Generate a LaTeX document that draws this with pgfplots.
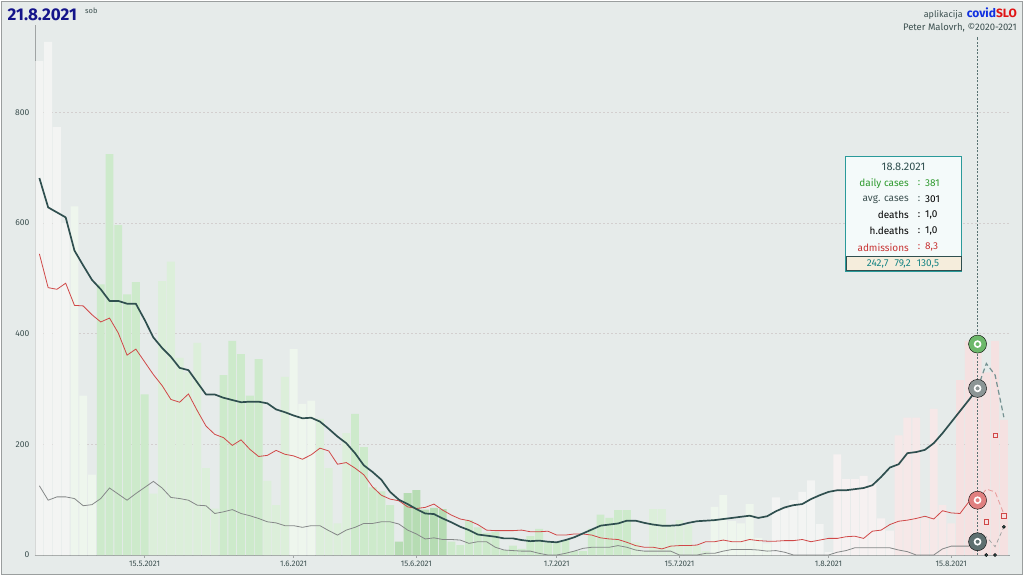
\documentclass[border=0pt]{standalone}
\usepackage{fontspec}
\setmainfont{Fira Sans}
\usepackage{pgfplots}
\pgfplotsset{compat=1.18}
\definecolor{bg}{HTML}{E6EBEA}
\definecolor{framecol}{HTML}{9A9E9E}
\definecolor{axcol}{HTML}{A0A4A4}
\definecolor{gridcol}{HTML}{D3CFCF}
\definecolor{tickcol}{HTML}{3C5050}
\definecolor{cW}{HTML}{F3F4F3}
\definecolor{cG0}{HTML}{EEF6ED}
\definecolor{cG1}{HTML}{DCEFDA}
\definecolor{cG2}{HTML}{CDEACB}
\definecolor{cG3}{HTML}{B6DCB3}
\definecolor{cP0}{HTML}{F6F1F1}
\definecolor{cP1}{HTML}{F6E8E8}
\definecolor{cP2}{HTML}{F5E1E1}
\definecolor{avgcol}{HTML}{2F4F4F}
\definecolor{redcol}{HTML}{D04848}
\definecolor{deathcol}{HTML}{858888}
\definecolor{mgreen}{HTML}{6DB86B}
\definecolor{mgray}{HTML}{8C9595}
\definecolor{mred}{HTML}{E08080}
\definecolor{mdark}{HTML}{5E7070}
\definecolor{titlecol}{HTML}{14148A}
\definecolor{tipborder}{HTML}{2A9A9A}
\definecolor{tipfill}{HTML}{F4FAFA}
\definecolor{tipbeige}{HTML}{F5EDDC}
\definecolor{tipteal}{HTML}{178585}
\definecolor{tipgreen}{HTML}{2E9A2E}
\definecolor{tipred}{HTML}{C83434}
\begin{document}
\begin{tikzpicture}[x=1pt,y=1pt]
\useasboundingbox (0,0) rectangle (1024,576);
\fill[white] (0,0) rectangle (1024,576);
\fill[bg] (1.5,1.5) rectangle (1022.5,574.5);
\draw[framecol, line width=1.2pt] (1.5,1.5) rectangle (1022.5,574.5);
\begin{axis}[
  at={(35pt,21pt)}, anchor=south west,
  scale only axis, width=975pt, height=530pt,
  xmin=-0.5, xmax=110.7, ymin=0, ymax=957.5,
  clip=false,
  axis x line*=bottom, axis y line*=left,
  axis line style={-, draw=axcol, line width=0.8pt},
  ymajorgrids, grid style={dashed, gridcol, line width=0.5pt, dash pattern=on 2pt off 2pt},
  ytick={0,200,400,600,800},
  ytick style={draw=none},
  yticklabel style={font=\fontsize{8.5}{10}\selectfont, text=tickcol, inner sep=0pt, xshift=-3pt},
  /pgf/number format/assume math mode=true,
  xtick={12,29,43,59,73,90,104},
  xticklabels={15.5.2021,1.6.2021,15.6.2021,1.7.2021,15.7.2021,1.8.2021,15.8.2021},
  xtick style={draw=axcol, line width=0.6pt},
  tick align=outside, major tick length=2.5pt,
  xticklabel style={font=\fontsize{8}{9}\selectfont, text=tickcol, inner sep=0pt, yshift=-3pt},
]
% ---- daily cases bars ----
\addplot[ybar, bar width=0.9, bar shift=0pt, fill=cW, draw=none] coordinates {
(0,892)(1,927)(2,773)(3,600)};
\addplot[ybar, bar width=0.9, bar shift=0pt, fill=cG0, draw=none] coordinates {
(4,630)(5,288)(6,145)(29,372)(30,273)(31,279)
(77,87)(78,108)(79,61)(80,57)(81,92)(82,31)(83,21)};
\addplot[ybar, bar width=0.9, bar shift=0pt, fill=cG2, draw=none] coordinates {
(7,489)(8,724)(9,596)(10,471)(11,493)(12,290)
(21,325)(22,387)(23,363)(24,288)(25,354)
(36,255)(37,195)(38,122)(39,115)(40,90)
(47,24)(48,18)(49,63)(50,50)(51,40)(52,42)
(53,9)(54,17)(55,11)(56,34)(57,47)(58,23)(59,23)(60,27)(61,7)(62,7)
(63,47)(64,73)(65,67)(66,81)(67,81)};
\addplot[ybar, bar width=0.9, bar shift=0pt, fill=cG1, draw=none] coordinates {
(13,111)(14,495)(15,530)(16,356)(17,330)(18,383)(19,157)(20,84)
(26,134)(27,90)(28,322)
(32,246)(33,157)(34,57)(35,220)
(68,23)(69,7)(70,83)(71,83)(72,55)(73,63)(74,55)(75,17)(76,7)};
\addplot[ybar, bar width=0.9, bar shift=0pt, fill=cG3, draw=none] coordinates {
(41,24)(42,112)(43,117)(44,82)(45,85)(46,83)};
\addplot[ybar, bar width=0.9, bar shift=0pt, fill=cW, draw=none] coordinates {
(84,104)(85,83)(86,99)(87,114)(88,135)(89,56)(90,5)};
\addplot[ybar, bar width=0.9, bar shift=0pt, fill=cP0, draw=none] coordinates {
(91,182)(92,137)(93,137)(94,143)(95,131)(96,66)(97,44)};
\addplot[ybar, bar width=0.9, bar shift=0pt, fill=cP1, draw=none] coordinates {
(98,216)(99,248)(100,248)(101,66)(102,264)(103,90)(104,57)};
\addplot[ybar, bar width=0.9, bar shift=0pt, fill=cP2, draw=none] coordinates {
(105,316)(106,387)(107,381)(108,330)(109,387)(110,244)};
% ---- vertical marker line ----
\draw[avgcol!80, line width=0.7pt, dash pattern=on 2pt off 1.5pt] (axis cs:107,0) -- (axis cs:107,936);
% ---- deaths (grey) ----
\addplot[deathcol, line width=0.8pt, mark=none] coordinates {
(0,125)(1,99)(2,105)(3,105)(4,102)(5,89)(6,91)(7,102)(8,121)(9,110)(10,99)(11,111)(12,122)(13,133)(14,121)(15,104)(16,102)(17,99)(18,90)(19,89)(20,75)(21,78)(22,82)(23,75)(24,71)(25,66)(26,60)(27,58)(28,53)(29,53)(30,50)(31,53)(32,53)(33,44)(34,36)(35,45)(36,50)(37,57)(38,57)(39,60)(40,60)(41,56)(42,45)(43,38)(44,29)(45,31)(46,28)(47,28)(48,27)(49,21)(50,24)(51,24)(52,14)(53,9)(54,8)(55,7)(56,7)(57,3)(58,0)(59,0)(60,3)(61,7)(62,12)(63,14)(64,14)(65,14)(66,17)(67,14)(68,9)(69,7)(70,7)(71,7)(72,7)(73,0)(74,0)(75,0)(76,3)(77,3)(78,7)(79,10)(80,10)(81,10)(82,9)(83,7)(84,8)(85,5)(86,0)(87,0)(88,0)(89,0)(90,0)(91,5)(92,8)(93,13)(94,13)(95,13)(96,13)(97,13)(98,9)(99,6)(100,0)(101,0)(102,0)(103,11)(104,16)(105,16)(106,16)(107,24)};
% ---- admissions (red) ----
\addplot[redcol, line width=0.8pt, mark=none] coordinates {
(0,544)(1,483)(2,480)(3,491)(4,451)(5,450)(6,434)(7,421)(8,428)(9,401)(10,361)(11,372)(12,349)(13,326)(14,306)(15,281)(16,276)(17,291)(18,261)(19,233)(20,218)(21,212)(22,198)(23,208)(24,191)(25,178)(26,180)(27,189)(28,182)(29,179)(30,173)(31,181)(32,193)(33,188)(34,164)(35,167)(36,157)(37,145)(38,123)(39,108)(40,101)(41,98)(42,87)(43,84)(44,86)(45,92)(46,81)(47,72)(48,65)(49,62)(50,55)(51,45)(52,44)(53,44)(54,44)(55,45)(56,42)(57,42)(58,43)(59,36)(60,36)(61,38)(62,38)(63,36)(64,31)(65,29)(66,28)(67,23)(68,17)(69,14)(70,14)(71,11)(72,16)(73,17)(74,17)(75,18)(76,24)(77,24)(78,27)(79,24)(80,24)(81,28)(82,26)(83,25)(84,25)(85,26)(86,26)(87,28)(88,24)(89,27)(90,30)(91,30)(92,33)(93,34)(94,30)(95,43)(96,45)(97,55)(98,61)(99,63)(100,66)(101,70)(102,65)(103,80)(104,76)(105,75)(106,96)(107,99)};
% ---- average cases (dark) ----
\addplot[avgcol, line width=1.7pt, mark=none, line join=round] coordinates {
(0,681)(1,628)(2,619)(3,610)(4,550)(5,523)(6,497)(7,480)(8,459)(9,459)(10,454)(11,454)(12,425)(13,393)(14,374)(15,358)(16,338)(17,334)(18,312)(19,290)(20,290)(21,284)(22,280)(23,276)(24,277)(25,277)(26,274)(27,263)(28,258)(29,252)(30,247)(31,248)(32,241)(33,228)(34,214)(35,202)(36,184)(37,162)(38,150)(39,136)(40,114)(41,100)(42,92)(43,83)(44,75)(45,74)(46,66)(47,59)(48,51)(49,45)(50,37)(51,35)(52,33)(53,30)(54,30)(55,27)(56,25)(57,26)(58,24)(59,23)(60,27)(61,32)(62,39)(63,46)(64,53)(65,55)(66,57)(67,62)(68,62)(69,58)(70,55)(71,53)(72,53)(73,54)(74,58)(75,61)(76,62)(77,63)(78,65)(79,67)(80,69)(81,71)(82,67)(83,70)(84,79)(85,86)(86,90)(87,92)(88,101)(89,108)(90,114)(91,117)(92,117)(93,119)(94,121)(95,126)(96,141)(97,158)(98,164)(99,184)(100,186)(101,190)(102,202)(103,220)(104,240)(105,260)(106,280)(107,301)};
% ---- forecasts (dashed) ----
\addplot[mgray!80!tipteal, line width=1.2pt, dash pattern=on 5pt off 3pt] coordinates {(107,301)(108,346)(109,325)(110,249)};
\addplot[mred!80, line width=0.8pt, dash pattern=on 5pt off 3pt] coordinates {(107,99)(108,119)(109,114)(110,74)};
\addplot[deathcol!80, line width=0.7pt, dash pattern=on 4pt off 3pt] coordinates {(107,24)(108,33)(109,15)(110,51)};
\addplot[only marks, mark=square, mark size=2.2pt, mark options={draw=redcol, line width=0.8pt, fill=none}] coordinates {(108,60)(109,216)(110,71)};
\addplot[only marks, mark=*, mark size=1.6pt, mark options={fill=avgcol, draw=none}] coordinates {(108,0)(109,0)(110,51)};
% ---- markers at 18.8 ----
\addplot[only marks, mark=*, mark size=9pt, mark options={fill=mgreen, draw=none}] coordinates {(107,381)};
\addplot[only marks, mark=*, mark size=9pt, mark options={fill=mgray, draw=none}] coordinates {(107,301)};
\addplot[only marks, mark=*, mark size=9pt, mark options={fill=mred, draw=none}] coordinates {(107,99)};
\addplot[only marks, mark=*, mark size=9pt, mark options={fill=mdark, draw=none}] coordinates {(107,24)};
\addplot[only marks, mark=o, mark size=3pt, mark options={draw=white, line width=1.6pt}] coordinates {(107,381)(107,301)(107,99)(107,24)};
\end{axis}
% ---- title ----
\node[anchor=west, inner sep=0pt, text=titlecol, font=\fontsize{17}{17}\selectfont\bfseries] at (7.5,561.5) {21.8.2021};
\node[anchor=west, inner sep=0pt, text=tickcol, font=\fontsize{7.5}{8}\selectfont] at (85,565.5) {sob};
% ---- credits ----
\node[anchor=base east, inner sep=0pt] at (1017,558) {{\fontsize{9}{10}\selectfont\color{tickcol}aplikacija}\hspace{4pt}{\fontsize{12}{12}\selectfont\bfseries\color[HTML]{1030E0}covid\color[HTML]{E01515}SLO}};
\node[anchor=base east, inner sep=0pt, text=tickcol, font=\fontsize{9.5}{10}\selectfont] at (1017,545) {Peter Malovrh, ©2020-2021};
% ---- tooltip ----
\draw[fill=tipfill, draw=tipborder, line width=0.8pt] (845.5,420) rectangle (961.5,305);
\draw[fill=tipbeige, draw=avgcol, line width=0.7pt] (846,319.5) rectangle (961,305.5);
\node[font=\fontsize{11}{12}\selectfont, text=avgcol, inner sep=0pt] at (903.5,409.3) {18.8.2021};
\begin{scope}[font=\fontsize{10}{11}\selectfont, inner sep=0pt]
\node[anchor=east, text=tipgreen] at (909,392.7) {daily cases};
\node[text=tipgreen] at (919,392.7) {:};
\node[anchor=west, text=tipgreen] at (925,392.7) {381};
\node[anchor=east, text=tickcol] at (909,376.7) {avg. cases};
\node[text=tickcol] at (919,376.7) {:};
\node[anchor=west, text=black] at (925,376.7) {301};
\node[anchor=east, text=black] at (909,361) {deaths};
\node[text=black] at (919,361) {:};
\node[anchor=west, text=black] at (925,361) {1,0};
\node[anchor=east, text=black] at (909,345.3) {h.deaths};
\node[text=black] at (919,345.3) {:};
\node[anchor=west, text=black] at (925,345.3) {1,0};
\node[anchor=east, text=tipred] at (909,328.7) {admissions};
\node[text=tipred] at (919,328.7) {:};
\node[anchor=west, text=tipred] at (925,328.7) {8,3};
\node[text=tipteal] at (903,312.3) {242,7\hspace{6pt}79,2\hspace{6pt}130,5};
\end{scope}
\end{tikzpicture}
\end{document}
